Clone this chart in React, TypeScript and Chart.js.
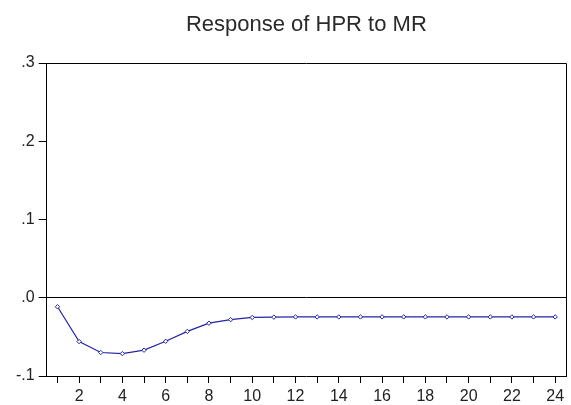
import React, { useEffect, useRef } from "react";
import { Chart, registerables } from "chart.js";

Chart.register(...registerables);

const TITLE = "Response of HPR to MR";
const periods = Array.from({ length: 24 }, (_, i) => String(i + 1));
const responseValues = [
  -0.0115, -0.056, -0.070, -0.0714, -0.067, -0.0556, -0.043, -0.0325,
  -0.028, -0.0252, -0.0248, -0.0245, -0.0245, -0.0245, -0.0245, -0.0245,
  -0.0245, -0.0245, -0.0245, -0.0245, -0.0245, -0.0245, -0.0245, -0.0245,
];
const yTickValues = [-0.1, 0, 0.1, 0.2, 0.3];
const yTickLabels = ["-.1", ".0", ".1", ".2", ".3"];
const xLabelEvery = 2;

const FONT = "'Liberation Sans', Arial, sans-serif";

const framePlugin = {
  id: "frameAndTitle",
  afterDraw(chart: any) {
    const { ctx, chartArea } = chart;
    const { left, right, top, bottom } = chartArea;
    ctx.save();
    ctx.strokeStyle = "#000";
    ctx.lineWidth = 1;
    ctx.beginPath();
    ctx.moveTo(Math.round(left) - 0.5, Math.round(top) + 0.5);
    ctx.lineTo(Math.round(right) + 0.5, Math.round(top) + 0.5);
    ctx.lineTo(Math.round(right) + 0.5, Math.round(bottom));
    ctx.stroke();
    ctx.fillStyle = "#2a2a2a";
    ctx.font = `22px ${FONT}`;
    ctx.textAlign = "center";
    ctx.textBaseline = "alphabetic";
    ctx.fillText(TITLE, (left + right) / 2, 31);
    ctx.restore();
  },
};

export default function App() {
  const ref = useRef<HTMLCanvasElement | null>(null);
  useEffect(() => {
    if (!ref.current) return;
    const chart = new Chart(ref.current, {
      type: "line",
      data: {
        labels: periods,
        datasets: [
          {
            data: responseValues,
            borderColor: "#2424A8",
            borderWidth: 1.2,
            tension: 0,
            pointStyle: "rectRot",
            pointRadius: 2.2,
            pointBackgroundColor: "#ffffff",
            pointBorderColor: "#2424A8",
            pointBorderWidth: 1,
          },
        ],
      },
      options: {
        responsive: false,
        animation: false,
        layout: { padding: { top: 63, left: 12, right: 4, bottom: -6 } },
        plugins: {
          legend: { display: false },
          title: { display: false },
          tooltip: { enabled: false },
        },
        scales: {
          x: {
            type: "category",
            offset: true,
            grid: {
              offset: false,
              drawOnChartArea: false,
              drawTicks: true,
              tickLength: 7,
              color: "#000",
              tickColor: "#000",
            },
            border: { display: true, color: "#000", width: 1 },
            ticks: {
              autoSkip: false,
              maxRotation: 0,
              padding: 6,
              color: "#222",
              font: { family: FONT, size: 16, lineHeight: 1 },
              callback: (_v: any, i: number) =>
                (i + 1) % xLabelEvery === 0 ? periods[i] : "",
            },
          },
          y: {
            type: "linear",
            min: -0.1,
            max: 0.3,
            afterBuildTicks: (scale: any) => {
              scale.ticks = yTickValues.map((v) => ({ value: v }));
            },
            grid: {
              drawOnChartArea: true,
              drawTicks: true,
              tickLength: 8,
              color: (ctx: any) =>
                ctx.tick && Math.abs(ctx.tick.value) < 1e-9 ? "#000" : "rgba(0,0,0,0)",
              tickColor: "#000",
            },
            border: { display: true, color: "#000", width: 1 },
            ticks: {
              padding: 4,
              color: "#222",
              font: { family: FONT, size: 16 },
              callback: (v: any) => {
                const idx = yTickValues.findIndex((t) => Math.abs(t - Number(v)) < 1e-9);
                return idx >= 0 ? yTickLabels[idx] : "";
              },
            },
          },
        },
      },
      plugins: [framePlugin],
    });
    return () => chart.destroy();
  }, []);
  return (
    <div style={{ position: "fixed", left: 0, top: 0, width: 571, height: 405, background: "#fff" }}>
      <canvas ref={ref} width={571} height={405} style={{ width: 571, height: 405 }} />
    </div>
  );
}
